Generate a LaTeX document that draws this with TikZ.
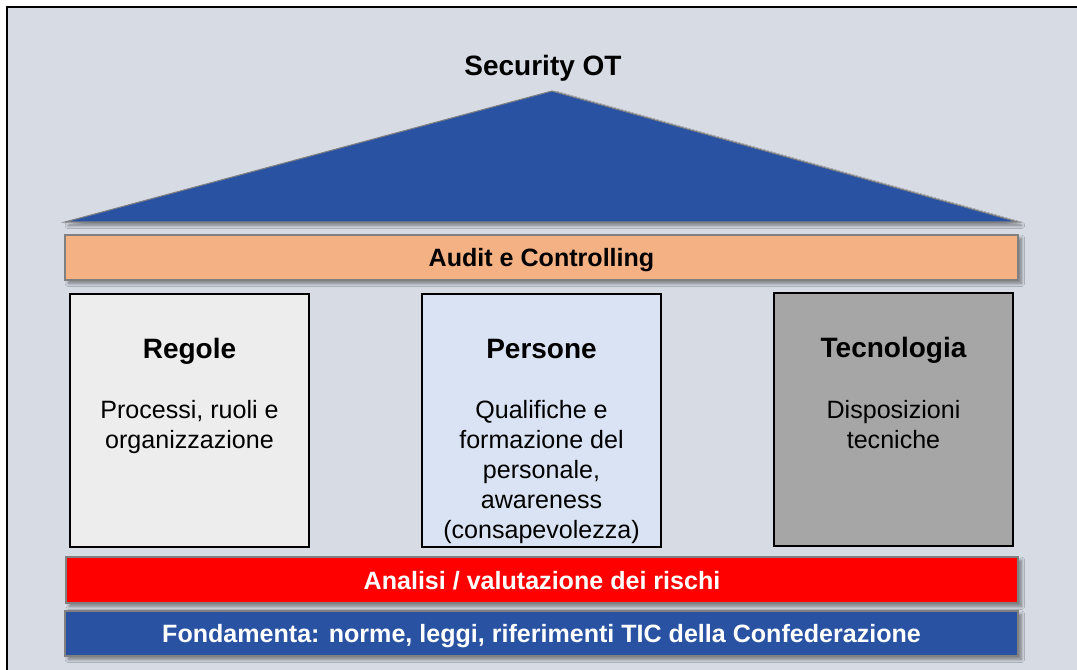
\documentclass[tikz,border=0pt]{standalone}
\usepackage{fontspec}
\setmainfont{Liberation Sans}
\usetikzlibrary{shadows.blur}
\definecolor{bgc}{RGB}{214,219,228}
\definecolor{roofblue}{RGB}{41,82,163}
\definecolor{auditc}{RGB}{244,177,131}
\definecolor{regc}{RGB}{237,237,237}
\definecolor{perc}{RGB}{218,227,243}
\definecolor{tecc}{RGB}{166,166,166}
\definecolor{edgegray}{RGB}{128,128,128}
\tikzset{
  shad/.style={blur shadow={shadow xshift=2.5pt, shadow yshift=-2.5pt, shadow blur steps=6, shadow opacity=45, shadow blur radius=2.5pt}},
  bar/.style={draw=edgegray, line width=1pt, shad},
  pillar/.style={draw=black, line width=1pt},
  bigtitle/.style={font=\fontsize{21}{25}\selectfont\bfseries, text=black, anchor=base},
  pillartitle/.style={font=\fontsize{21}{25}\selectfont\bfseries, text=black, anchor=base},
  pillartext/.style={font=\fontsize{18.8}{22.5}\selectfont, align=center, text=black, anchor=north},
  bartext/.style={font=\fontsize{18.8}{22.5}\selectfont\bfseries, anchor=base},
}
\begin{document}
\begin{tikzpicture}[x=0.75pt, y=-0.75pt]
\useasboundingbox (0,0) rectangle (1077,670);
% frame
\fill[white] (0,0) rectangle (1077,670);
\fill[bgc] (7,7) rectangle (1077,670);
\draw[black, line width=1.5pt] (7,670) -- (7,7) -- (1077,7);
% roof
\node[bigtitle] (title) at (543,76) {Security OT};
\filldraw[fill=roofblue, draw=edgegray, line width=0.8pt, shad] (65,222) -- (552,91) -- (1018,222) -- cycle;
% audit bar
\filldraw[fill=auditc, bar] (65,235) rectangle (1018,280);
\node[bartext, text=black] (audit) at (541.5,267) {Audit e Controlling};
% pillars
\filldraw[fill=regc, pillar] (70,294) rectangle (309,547);
\filldraw[fill=perc, pillar] (422,294) rectangle (661,547);
\filldraw[fill=tecc, pillar] (774,293) rectangle (1013,546);
\node[pillartitle] (regT) at (189.5,358) {Regole};
\node[pillartitle] (perT) at (541.5,358) {Persone};
\node[pillartitle] (tecT) at (893.5,357) {Tecnologia};
\node[pillartext] (regX) at (189.5,396) {Processi, ruoli e\\organizzazione};
\node[pillartext] (perX) at (541.5,396) {Qualifiche e\\formazione del\\personale,\\awareness\\(consapevolezza)};
\node[pillartext] (tecX) at (893.5,396) {Disposizioni\\tecniche};
% base bars
\filldraw[fill=red, bar] (66,557) rectangle (1018,603);
\node[bartext, text=white] (risk) at (542,589) {Analisi / valutazione dei rischi};
\filldraw[fill=roofblue, bar] (65,611) rectangle (1018,656);
\node[bartext, text=white] (base) at (541.5,642) {Fondamenta: norme, leggi, riferimenti TIC della Confederazione};
\end{tikzpicture}
\end{document}
